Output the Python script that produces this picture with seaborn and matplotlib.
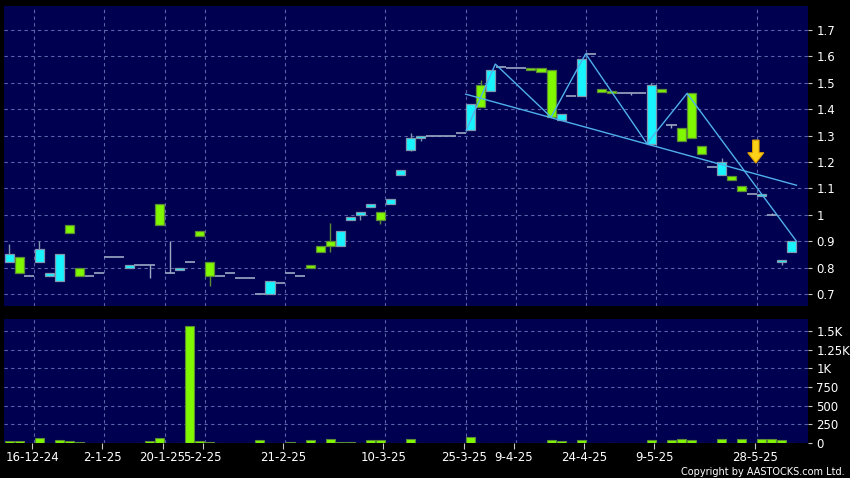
import numpy as np
import pandas as pd
import matplotlib
matplotlib.use("Agg")
import matplotlib.pyplot as plt
import seaborn as sns

# ---------------- data ----------------
date_labels = ['16-12-24', '2-1-25', '20-1-25', '5-2-25', '21-2-25', '10-3-25',
               '25-3-25', '9-4-25', '24-4-25', '9-5-25', '28-5-25']
date_label_idx = [3, 10, 16, 20, 28, 38, 46, 51, 58, 65, 75]

open_ = [0.82, 0.84, 0.77, 0.82, 0.77, 0.75, 0.96, 0.80, 0.77, 0.78,
         0.84, 0.84, 0.80, 0.81, 0.81, 1.04, 0.78, 0.79, 0.82, 0.94,
         0.82, 0.77, 0.78, 0.76, 0.76, 0.70, 0.70, 0.74, 0.78, 0.77,
         0.81, 0.88, 0.90, 0.88, 0.98, 1.00, 1.03, 1.01, 1.04, 1.15,
         1.245, 1.29, 1.30, 1.30, 1.30, 1.31, 1.32, 1.49, 1.47, 1.56,
         1.555, 1.555, 1.557, 1.557, 1.55, 1.36, 1.45, 1.45, 1.61, 1.477,
         1.469, 1.46, 1.46, 1.46, 1.27, 1.478, 1.34, 1.33, 1.46, 1.26,
         1.18, 1.15, 1.148, 1.108, 1.078, 1.07, 1.00, 0.82, 0.86]
high = [0.89, 0.84, 0.77, 0.90, 0.778, 0.85, 0.96, 0.80, 0.77, 0.78,
        0.84, 0.84, 0.81, 0.81, 0.81, 1.04, 0.90, 0.80, 0.82, 0.94,
        0.82, 0.77, 0.78, 0.76, 0.76, 0.70, 0.75, 0.74, 0.78, 0.77,
        0.81, 0.88, 0.97, 0.94, 0.99, 1.01, 1.04, 1.01, 1.06, 1.17,
        1.31, 1.30, 1.30, 1.30, 1.30, 1.31, 1.42, 1.51, 1.55, 1.565,
        1.555, 1.555, 1.557, 1.557, 1.55, 1.38, 1.45, 1.59, 1.61, 1.477,
        1.469, 1.46, 1.46, 1.46, 1.50, 1.478, 1.345, 1.33, 1.46, 1.26,
        1.18, 1.215, 1.148, 1.108, 1.078, 1.08, 1.005, 0.83, 0.90]
low = [0.82, 0.78, 0.77, 0.82, 0.77, 0.75, 0.93, 0.77, 0.77, 0.78,
       0.84, 0.84, 0.80, 0.81, 0.76, 0.96, 0.78, 0.79, 0.82, 0.92,
       0.73, 0.77, 0.78, 0.76, 0.76, 0.70, 0.70, 0.74, 0.78, 0.77,
       0.80, 0.86, 0.86, 0.88, 0.98, 0.98, 1.03, 0.965, 1.04, 1.15,
       1.24, 1.28, 1.30, 1.30, 1.30, 1.31, 1.32, 1.41, 1.47, 1.56,
       1.555, 1.555, 1.55, 1.54, 1.37, 1.36, 1.45, 1.45, 1.61, 1.467,
       1.46, 1.46, 1.455, 1.46, 1.27, 1.466, 1.33, 1.28, 1.29, 1.23,
       1.18, 1.15, 1.132, 1.09, 1.078, 1.07, 1.00, 0.81, 0.86]
close = [0.85, 0.78, 0.77, 0.87, 0.778, 0.85, 0.93, 0.77, 0.77, 0.78,
         0.84, 0.84, 0.81, 0.81, 0.81, 0.96, 0.78, 0.80, 0.82, 0.92,
         0.77, 0.77, 0.78, 0.76, 0.76, 0.70, 0.75, 0.74, 0.78, 0.77,
         0.80, 0.86, 0.88, 0.94, 0.99, 1.01, 1.04, 0.98, 1.06, 1.17,
         1.29, 1.30, 1.30, 1.30, 1.30, 1.31, 1.42, 1.41, 1.55, 1.56,
         1.555, 1.555, 1.55, 1.54, 1.37, 1.38, 1.45, 1.59, 1.61, 1.467,
         1.46, 1.46, 1.46, 1.46, 1.49, 1.466, 1.34, 1.28, 1.29, 1.23,
         1.18, 1.20, 1.132, 1.09, 1.078, 1.08, 1.00, 0.83, 0.90]
volume = [31, 31, 0, 62, 0, 35, 31, 18, 0, 0,
          0, 0, 0, 0, 31, 66, 0, 0, 1570, 31,
          18, 4, 0, 4, 0, 35, 0, 0, 10, 0,
          44, 5, 53, 13, 13, 4, 35, 35, 0, 0,
          58, 3, 0, 0, 0, 0, 80, 0, 0, 0,
          0, 0, 0, 5, 35, 22, 0, 44, 0, 0,
          0, 0, 0, 0, 35, 0, 44, 58, 35, 5,
          0, 53, 0, 49, 0, 49, 53, 35, 0]

price_ticks = [0.7, 0.8, 0.9, 1.0, 1.1, 1.2, 1.3, 1.4, 1.5, 1.6, 1.7]
price_tick_labels = ['0.7', '0.8', '0.9', '1', '1.1', '1.2', '1.3', '1.4', '1.5', '1.6', '1.7']
vol_ticks = [0, 250, 500, 750, 1000, 1250, 1500]
vol_tick_labels = ['0', '250', '500', '750', '1K', '1.25K', '1.5K']

zigzag_x = [45.55, 48.45, 54.0, 57.45, 63.55, 67.55, 78.45]
zigzag_y = [1.32, 1.571, 1.37, 1.61, 1.27, 1.46, 0.90]
trend_x = [45.5, 78.45]
trend_y = [1.457, 1.112]
signal_x = 74.4
signal_top, signal_tip = 1.283, 1.196

# ---------------- style ----------------
BG = '#000050'
GRID = '#5a64a8'
CYAN = '#18f4ff'
CYAN_EDGE = '#7f98b0'
GREEN = '#80f800'
GREEN_EDGE = '#5c8c34'
DASH = '#9aaac4'
LINE = '#4fb0ec'
plt.rcParams['font.family'] = ['DejaVu Sans']

fig = plt.figure(figsize=(8.5, 4.78), dpi=100, facecolor='black')
ax1 = fig.add_axes([4 / 850, 1 - 306 / 478, 804 / 850, 300 / 478])
ax2 = fig.add_axes([4 / 850, 1 - 443 / 478, 804 / 850, 124 / 478])

n = len(close)
idx = np.arange(n)
xlim = (-0.5, 79.6)

for ax in (ax1, ax2):
    ax.set_facecolor(BG)
    for s in ax.spines.values():
        s.set_visible(False)
    ax.set_xlim(*xlim)
    for p in date_label_idx:
        ax.axvline(p - 0.5, color=GRID, lw=0.8, ls=(0, (3, 3)), zorder=0)

# ---------------- price panel ----------------
ax1.set_ylim(0.6545, 1.791)
for t in price_ticks:
    ax1.axhline(t, color=GRID, lw=0.8, ls=(0, (3, 3)), zorder=0)

for i in range(n):
    o, h, l, c = open_[i], high[i], low[i], close[i]
    if abs(c - o) < 1e-9:
        if h > o or l < o:
            ax1.vlines(i, l, h, color=DASH, lw=1.0, zorder=2)
        ax1.hlines(o, i - 0.5, i + 0.5, color=DASH, lw=1.2, zorder=2)
    else:
        up = c > o
        ax1.vlines(i, l, h, color=CYAN_EDGE if up else GREEN_EDGE, lw=1.0, zorder=2)
        ax1.bar(i, abs(c - o), bottom=min(o, c), width=0.9,
                color=CYAN if up else GREEN,
                edgecolor=CYAN_EDGE if up else GREEN_EDGE, linewidth=0.9, zorder=3)

line_df = pd.DataFrame({'x': zigzag_x, 'y': zigzag_y})
sns.lineplot(data=line_df, x='x', y='y', ax=ax1, color=LINE, lw=1.0,
             sort=False, estimator=None, zorder=4)
trend_df = pd.DataFrame({'x': trend_x, 'y': trend_y})
sns.lineplot(data=trend_df, x='x', y='y', ax=ax1, color=LINE, lw=1.0,
             sort=False, estimator=None, zorder=4)

# signal arrow
hw, sw = 0.8, 0.32
head_base = signal_tip + (signal_top - signal_tip) * 0.45
arrow_xs = [signal_x - sw, signal_x + sw, signal_x + sw, signal_x + hw,
            signal_x, signal_x - hw, signal_x - sw]
arrow_ys = [signal_top, signal_top, head_base, head_base, signal_tip, head_base, head_base]
ax1.fill(arrow_xs, arrow_ys, facecolor='#ffd21a', edgecolor='#e0a000', lw=0.8, zorder=5)

ax1.set_xlabel('')
ax1.set_ylabel('')
ax1.set_xticks([])
ax1.yaxis.tick_right()
ax1.set_yticks(price_ticks)
ax1.set_yticklabels(price_tick_labels)
ax1.tick_params(axis='y', colors='#c8c8c8', labelcolor='white', length=3,
                width=0.8, labelsize=8.5, pad=3)

# ---------------- volume panel ----------------
vol_df = pd.DataFrame({'idx': idx, 'volume': volume})
sns.barplot(data=vol_df, x='idx', y='volume', ax=ax2, native_scale=True,
            color=GREEN, edgecolor=GREEN_EDGE, linewidth=0.8, width=0.9,
            errorbar=None, saturation=1, zorder=3)
ax2.set_xlim(*xlim)
ax2.set_ylim(0, 1660)
for t in vol_ticks[1:]:
    ax2.axhline(t, color=GRID, lw=0.8, ls=(0, (3, 3)), zorder=0)
ax2.set_xlabel('')
ax2.set_ylabel('')
ax2.yaxis.tick_right()
ax2.set_yticks(vol_ticks)
ax2.set_yticklabels(vol_tick_labels)
ax2.tick_params(axis='y', colors='#c8c8c8', labelcolor='white', length=3,
                width=0.8, labelsize=8.5, pad=3)
ax2.set_xticks([p - 0.7 for p in date_label_idx])
ax2.set_xticklabels(date_labels)
ax2.tick_params(axis='x', colors='#c8c8c8', labelcolor='white', length=4,
                width=0.8, labelsize=8.5, pad=2)

fig.text(845 / 850, 1 - 477 / 478, 'Copyright by AASTOCKS.com Ltd.', color='white',
         fontsize=7, ha='right', va='bottom')

fig.savefig('out.png', dpi=100, facecolor='black')
